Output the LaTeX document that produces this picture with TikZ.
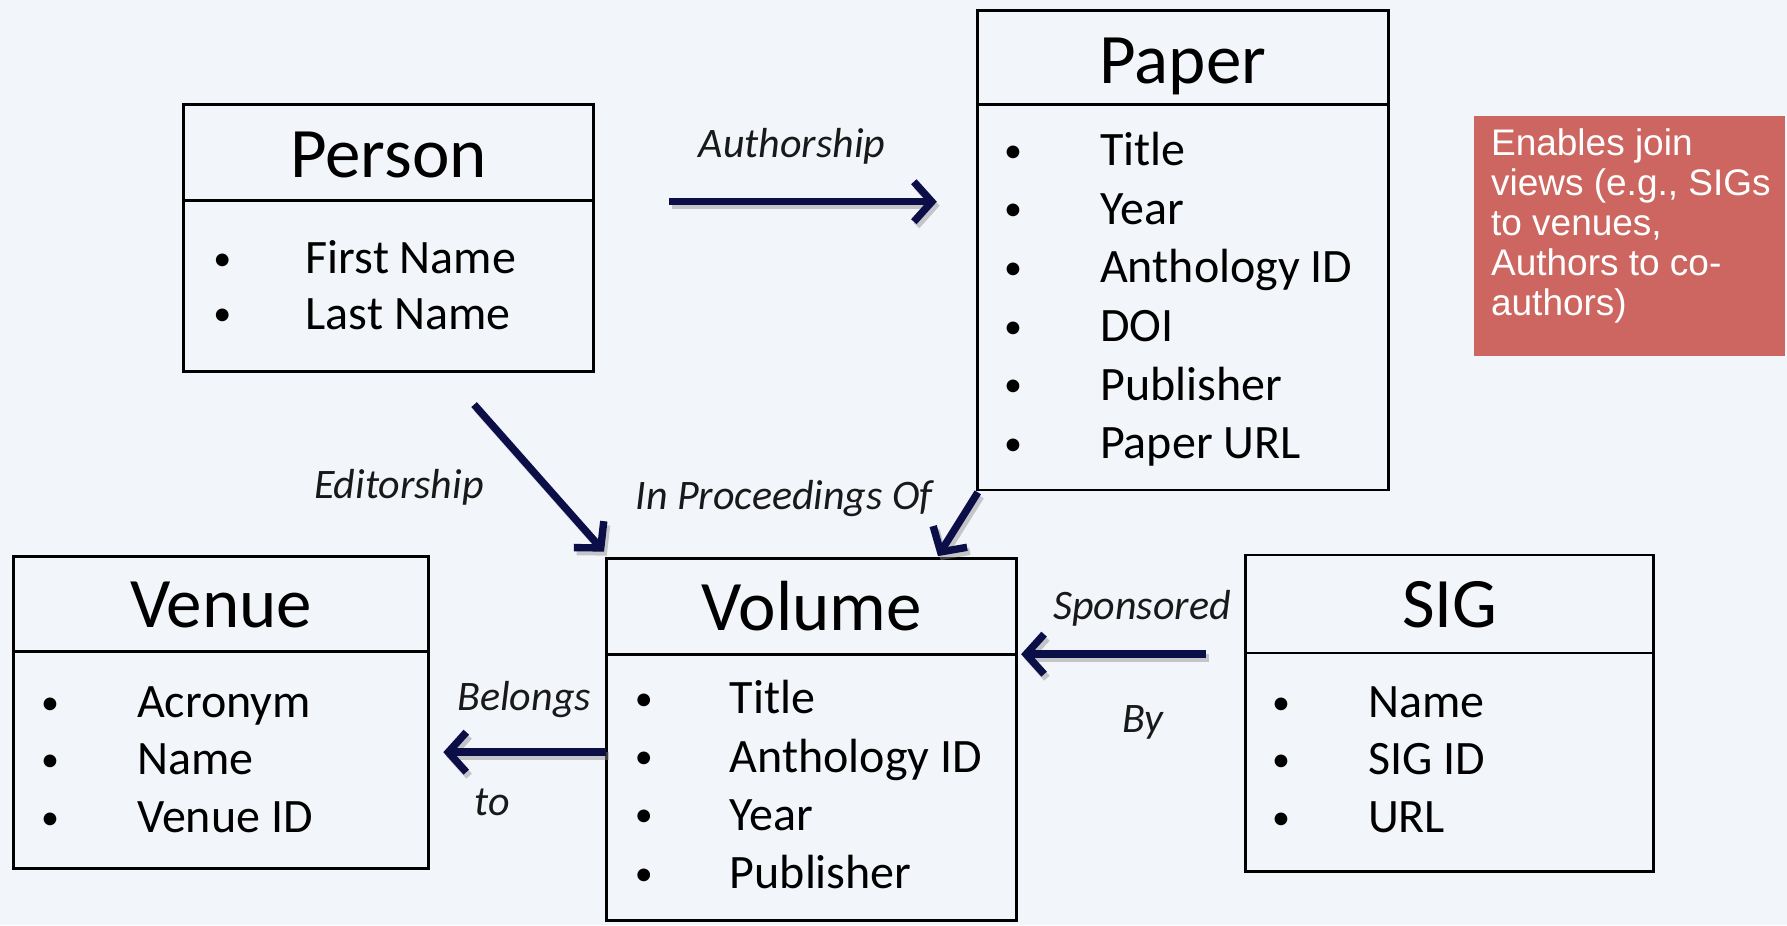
\documentclass[tikz,border=0pt]{standalone}
\usepackage{fontspec}
\setmainfont{Carlito}
\newfontfamily\arialf{Liberation Sans}
\usetikzlibrary{arrows.meta,fit,calc}
\definecolor{bg}{RGB}{242,245,250}
\definecolor{navy}{RGB}{12,14,72}
\definecolor{notered}{RGB}{205,102,96}
\begin{document}
\begin{tikzpicture}[x=0.5699pt,y=-0.5699pt,
  ent/.style={draw=black,line width=1.4pt,inner sep=0pt},
  divl/.style={draw=black,line width=1.4pt},
  ttl/.style={font=\fontsize{35.5}{40}\selectfont,anchor=base,inner sep=0pt},
  itm/.style={font=\fontsize{24}{28}\selectfont,anchor=base west,inner sep=0pt},
  bul/.style={font=\fontsize{18}{20}\selectfont,anchor=base,inner sep=0pt},
  lbl/.style={font=\fontsize{21}{24}\selectfont\itshape,text=black!90,inner sep=0pt},
  rel/.style={draw=navy,line width=3.7pt,-{Straight Barb[length=9pt,width=20pt]}},
  relshd/.style={draw=black!45,opacity=0.45,line width=3.7pt,-{Straight Barb[length=9pt,width=20pt]},transform canvas={shift={(1.4pt,-2pt)}}},
  notebox/.style={fill=notered,draw=none,inner sep=0pt},
  notetext/.style={text=white,font=\arialf\fontsize{18.5}{20}\selectfont,align=left,anchor=north west,inner sep=0pt}
]
\useasboundingbox[fill=bg] (0,0) rectangle (1568,812);

% ---------- Person ----------
\node[ent,fit={(161,92) (521,326)}] (person) {};
\draw[divl] (161,176) -- (521,176);
\node[ttl] (personT) at (341,156) {Person};
\node[bul] (personB1) at (195,237) {•};
\node[itm] (personI1) at (268,240) {First Name};
\node[bul] (personB2) at (195,286) {•};
\node[itm] (personI2) at (268,289) {Last Name};

% ---------- Paper ----------
\node[ent,fit={(858,9) (1218,430)}] (paper) {};
\draw[divl] (858,92) -- (1218,92);
\node[ttl] (paperT) at (1038,73) {Paper};
\foreach \t [count=\i] in {Title,Year,Anthology ID,DOI,Publisher,Paper URL}{
  \node[bul] (paperB\i) at (889,91+51.4*\i) {•};
  \node[itm] (paperI\i) at (965,94+51.4*\i) {\t};
}

% ---------- Note ----------
\node[notebox,fit={(1293,102) (1566,312)}] (note) {};
\node[notetext] (noteT) at (1308,113) {Enables join\\views (e.g., SIGs\\to venues,\\Authors to co-\\authors)};

% ---------- Venue ----------
\node[ent,fit={(12,488) (376,762)}] (venue) {};
\draw[divl] (12,572) -- (376,572);
\node[ttl] (venueT) at (194,551) {Venue};
\foreach \t [count=\i] in {Acronym,Name,Venue ID}{
  \node[bul] (venueB\i) at (44,576+50.5*\i) {•};
  \node[itm] (venueI\i) at (120,579+50.5*\i) {\t};
}

% ---------- Volume ----------
\node[ent,fit={(532,490) (892,808)}] (volume) {};
\draw[divl] (532,574) -- (892,574);
\node[ttl] (volumeT) at (712,553) {Volume};
\foreach \t [count=\i] in {Title,Anthology ID,Year,Publisher}{
  \node[bul] (volumeB\i) at (565,572+51.2*\i) {•};
  \node[itm] (volumeI\i) at (640,575+51.2*\i) {\t};
}

% ---------- SIG ----------
\node[ent,fit={(1093,487) (1451,765)}] (sig) {};
\draw[divl] (1093,573) -- (1451,573);
\node[ttl] (sigT) at (1272,551) {SIG};
\foreach \t [count=\i] in {Name,SIG ID,URL}{
  \node[bul] (sigB\i) at (1124,576+50.5*\i) {•};
  \node[itm] (sigI\i) at (1200,579+50.5*\i) {\t};
}

% ---------- connector end points ----------
\coordinate (authS) at (587,177);
\coordinate (authE) at (822,177);
\coordinate (editS) at (416,355);
\coordinate (editE) at (530,484);
\coordinate (procS) at (858,432);
\coordinate (procE) at (823,488);
\coordinate (sponS) at (1058,574);
\coordinate (sponE) at (896,574);
\coordinate (belS) at (532,660);
\coordinate (belE) at (389,660);

% shadows
\draw[relshd] (authS) -- (authE);
\draw[relshd] (editS) -- (editE);
\draw[relshd] (procS) -- (procE);
\draw[relshd] (sponS) -- (sponE);
\draw[relshd] (belS) -- (belE);
% arrows
\draw[rel] (authS) -- (authE);
\draw[rel] (editS) -- (editE);
\draw[rel] (procS) -- (procE);
\draw[rel] (sponS) -- (sponE);
\draw[rel] (belS) -- (belE);

% ---------- labels ----------
\node[lbl] (lAuth) at (695,128) {Authorship};
\node[lbl] (lEdit) at (350,428) {Editorship};
\node[lbl] (lProc) at (688,437) {In Proceedings Of};
\node[lbl] (lSpon) at (1002,534) {Sponsored};
\node[lbl] (lBy) at (1003,634) {By};
\node[lbl] (lBel) at (460,614) {Belongs};
\node[lbl] (lTo) at (432,704) {to};
\end{tikzpicture}
\end{document}
